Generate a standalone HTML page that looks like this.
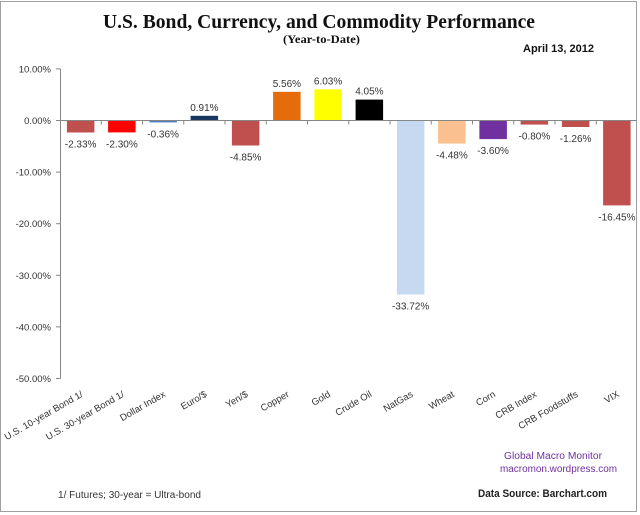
<!DOCTYPE html>
<html>
<head>
<meta charset="utf-8">
<style>
  html,body{margin:0;padding:0;background:#fff;}
  svg{display:block;}
  text{font-family:"Liberation Sans", Arial, sans-serif;}
  .serif{font-family:"Liberation Serif","Times New Roman",serif;}
</style>
</head>
<body>
<svg width="640" height="515" viewBox="0 0 640 515" xmlns="http://www.w3.org/2000/svg">
  <rect x="0" y="0" width="640" height="515" fill="#fff"/>
  <rect x="0.5" y="1.5" width="636" height="510" fill="none" stroke="#a0a0a0" stroke-width="1"/>

  <!-- Titles -->
  <text class="serif" x="103" y="28" font-size="20" font-weight="bold" fill="#111" textLength="432" lengthAdjust="spacingAndGlyphs">U.S. Bond, Currency, and Commodity Performance</text>
  <text class="serif" x="283" y="43" font-size="12" font-weight="bold" fill="#111" textLength="77" lengthAdjust="spacingAndGlyphs">(Year-to-Date)</text>
  <text x="523" y="52" font-size="11" font-weight="bold" fill="#111" textLength="71" lengthAdjust="spacingAndGlyphs">April 13, 2012</text>

  <!-- Y axis -->
  <g stroke="#868686" stroke-width="1">
    <line x1="60.5" y1="68.9" x2="60.5" y2="378.5"/>
    <line x1="56" y1="68.9" x2="60.5" y2="68.9"/>
    <line x1="56" y1="120.5" x2="60.5" y2="120.5"/>
    <line x1="56" y1="172.1" x2="60.5" y2="172.1"/>
    <line x1="56" y1="223.7" x2="60.5" y2="223.7"/>
    <line x1="56" y1="275.3" x2="60.5" y2="275.3"/>
    <line x1="56" y1="326.9" x2="60.5" y2="326.9"/>
    <line x1="56" y1="378.5" x2="60.5" y2="378.5"/>
  </g>
  <g font-size="9.5" fill="#333" text-anchor="end">
    <text x="51" y="72.4">10.00%</text>
    <text x="51" y="124">0.00%</text>
    <text x="51" y="175.6">-10.00%</text>
    <text x="51" y="227.2">-20.00%</text>
    <text x="51" y="278.8">-30.00%</text>
    <text x="51" y="330.4">-40.00%</text>
    <text x="51" y="382">-50.00%</text>
  </g>

  <!-- Bars -->
  <rect x="66.9"  y="120.5" width="27.5" height="12.0" fill="#C0504D"/>
  <rect x="108.1" y="120.5" width="27.5" height="11.9" fill="#FF0000"/>
  <rect x="149.4" y="120.5" width="27.5" height="1.9"  fill="#4F81BD"/>
  <rect x="190.6" y="115.8" width="27.5" height="4.7"  fill="#17375E"/>
  <rect x="231.9" y="120.5" width="27.5" height="25.0" fill="#C0504D"/>
  <rect x="273.1" y="91.8"  width="27.5" height="28.7" fill="#E46C0A"/>
  <rect x="314.4" y="89.4"  width="27.5" height="31.1" fill="#FFFF00"/>
  <rect x="355.6" y="99.6"  width="27.5" height="20.9" fill="#000000"/>
  <rect x="396.9" y="120.5" width="27.5" height="174.0" fill="#C6D9F1"/>
  <rect x="438.1" y="120.5" width="27.5" height="23.1" fill="#FAC090"/>
  <rect x="479.4" y="120.5" width="27.5" height="18.6" fill="#7030A0"/>
  <rect x="520.6" y="120.5" width="27.5" height="4.1"  fill="#C0504D"/>
  <rect x="561.9" y="120.5" width="27.5" height="6.5"  fill="#C0504D"/>
  <rect x="603.1" y="120.5" width="27.5" height="84.9" fill="#C0504D"/>

  <!-- X axis line & ticks -->
  <g stroke="#868686" stroke-width="1">
    <line x1="60.5" y1="120.5" x2="637" y2="120.5"/>
    <line x1="101.25" y1="120.5" x2="101.25" y2="124.5"/>
    <line x1="142.5" y1="120.5" x2="142.5" y2="124.5"/>
    <line x1="183.75" y1="120.5" x2="183.75" y2="124.5"/>
    <line x1="225" y1="120.5" x2="225" y2="124.5"/>
    <line x1="266.25" y1="120.5" x2="266.25" y2="124.5"/>
    <line x1="307.5" y1="120.5" x2="307.5" y2="124.5"/>
    <line x1="348.75" y1="120.5" x2="348.75" y2="124.5"/>
    <line x1="390" y1="120.5" x2="390" y2="124.5"/>
    <line x1="431.25" y1="120.5" x2="431.25" y2="124.5"/>
    <line x1="472.5" y1="120.5" x2="472.5" y2="124.5"/>
    <line x1="513.75" y1="120.5" x2="513.75" y2="124.5"/>
    <line x1="555" y1="120.5" x2="555" y2="124.5"/>
    <line x1="596.25" y1="120.5" x2="596.25" y2="124.5"/>
  </g>

  <!-- Data labels -->
  <g font-size="10" fill="#333" text-anchor="middle">
    <text x="80.6" y="147.5">-2.33%</text>
    <text x="121.9" y="147.4">-2.30%</text>
    <text x="163.1" y="137.4">-0.36%</text>
    <text x="204.4" y="110.8">0.91%</text>
    <text x="245.6" y="160.5">-4.85%</text>
    <text x="286.9" y="86.8">5.56%</text>
    <text x="328.1" y="84.4">6.03%</text>
    <text x="369.4" y="94.6">4.05%</text>
    <text x="410.6" y="309.5">-33.72%</text>
    <text x="451.9" y="158.6">-4.48%</text>
    <text x="493.1" y="154.1">-3.60%</text>
    <text x="534.4" y="139.6">-0.80%</text>
    <text x="575.6" y="142">-1.26%</text>
    <text x="616.9" y="220.4">-16.45%</text>
  </g>

  <!-- Category labels -->
  <g font-size="9.5" fill="#333" text-anchor="end">
    <text transform="translate(83.6,396) rotate(-30)">U.S. 10-year Bond 1/</text>
    <text transform="translate(124.9,396) rotate(-30)">U.S. 30-year Bond 1/</text>
    <text transform="translate(166.1,396) rotate(-30)">Dollar Index</text>
    <text transform="translate(207.4,396) rotate(-30)">Euro/$</text>
    <text transform="translate(248.6,396) rotate(-30)">Yen/$</text>
    <text transform="translate(289.9,396) rotate(-30)">Copper</text>
    <text transform="translate(331.1,396) rotate(-30)">Gold</text>
    <text transform="translate(372.4,396) rotate(-30)">Crude Oil</text>
    <text transform="translate(413.6,396) rotate(-30)">NatGas</text>
    <text transform="translate(454.9,396) rotate(-30)">Wheat</text>
    <text transform="translate(496.1,396) rotate(-30)">Corn</text>
    <text transform="translate(537.4,396) rotate(-30)">CRB Index</text>
    <text transform="translate(578.6,396) rotate(-30)">CRB Foodstuffs</text>
    <text transform="translate(619.9,396) rotate(-30)">VIX</text>
  </g>

  <!-- Footer texts -->
  <text x="504" y="459" font-size="10" fill="#7030A0" textLength="98" lengthAdjust="spacingAndGlyphs">Global Macro Monitor</text>
  <text x="500" y="472" font-size="10" fill="#7030A0" textLength="117" lengthAdjust="spacingAndGlyphs">macromon.wordpress.com</text>
  <text x="478" y="497" font-size="11" font-weight="bold" fill="#222" textLength="129" lengthAdjust="spacingAndGlyphs">Data Source:  Barchart.com</text>
  <text x="58" y="498" font-size="10" fill="#333" textLength="143" lengthAdjust="spacingAndGlyphs">1/  Futures; 30-year = Ultra-bond</text>
</svg>
</body>
</html>
